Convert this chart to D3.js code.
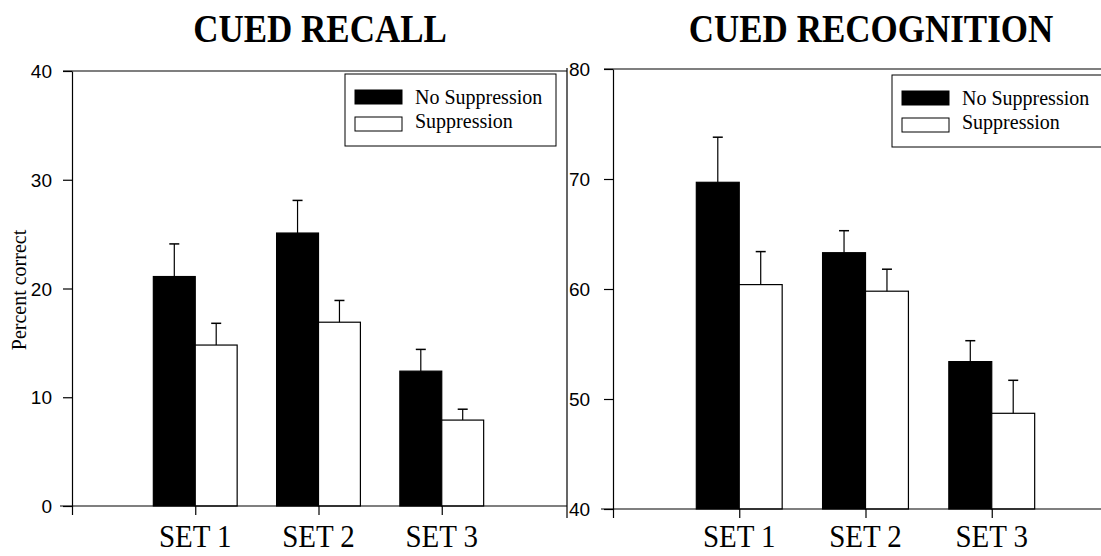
<!DOCTYPE html>
<head>
	<script src="https://d3js.org/d3.v7.min.js"></script>
	<style>
		body { margin: 0; background: #fff; }
		.title { font-family: "Liberation Serif", "Times New Roman", serif; font-weight: bold; font-size: 35px; fill: #000; }
		.tick-label { font-family: "Liberation Sans", Arial, sans-serif; font-size: 19px; fill: #000; }
		.cat { font-family: "Liberation Serif", serif; font-size: 29px; fill: #000; }
		.legend-text { font-family: "Liberation Serif", serif; font-size: 20px; fill: #000; }
		.ylab { font-family: "Liberation Serif", serif; font-size: 20px; fill: #000; }
		.domain, .tick line { stroke: #000; stroke-width: 1.2; }
	</style>
</head>
<body>
	<script>
		// data
		var sets = ["SET 1", "SET 2", "SET 3"];
		var series = ["No Suppression", "Suppression"];
		var recallNoSup = [21.1, 25.1, 12.4];
		var recallNoSupErr = [3.0, 3.0, 2.0];
		var recallSup = [14.8, 16.9, 7.9];
		var recallSupErr = [2.0, 2.0, 1.0];
		var recogNoSup = [69.7, 63.3, 53.4];
		var recogNoSupErr = [4.1, 2.0, 1.9];
		var recogSup = [60.4, 59.8, 48.7];
		var recogSupErr = [3.0, 2.0, 3.0];
		var recallTicks = [0, 10, 20, 30, 40];
		var recogTicks = [40, 50, 60, 70, 80];

		var width = 1101, height = 556;
		var svg = d3.select("body").append("svg")
			.attr("width", width)
			.attr("height", height);

		function panel(opt) {
			var x = d3.scaleLinear().domain([0, 4]).range([opt.left, opt.right]);
			var y = d3.scaleLinear().domain(opt.domain).range([opt.bottom, opt.top]);
			var bw = 0.34;
			var g = svg.append("g");

			// top frame line
			g.append("line")
				.attr("x1", opt.left - 9).attr("x2", opt.frameRight)
				.attr("y1", y(opt.domain[1])).attr("y2", y(opt.domain[1]))
				.attr("stroke", "#000").attr("stroke-width", 1.2);

			// bars
			var rows = sets.map(function(s, i) {
				return [
					{ c: i + 1, off: -bw, v: opt.a[i], e: opt.ae[i], fill: "#000" },
					{ c: i + 1, off: 0, v: opt.b[i], e: opt.be[i], fill: "#fff" }
				];
			}).flat();

			g.selectAll("rect.bar").data(rows).enter().append("rect")
				.attr("class", "bar")
				.attr("x", function(d) { return x(d.c + d.off); })
				.attr("width", function(d) { return x(bw) - x(0); })
				.attr("y", function(d) { return y(d.v); })
				.attr("height", function(d) { return y(opt.domain[0]) - y(d.v); })
				.attr("fill", function(d) { return d.fill; })
				.attr("stroke", "#000").attr("stroke-width", 1.2);

			// error bars
			var eb = g.selectAll("g.err").data(rows).enter().append("g");
			eb.append("line")
				.attr("x1", function(d) { return x(d.c + d.off + bw / 2); })
				.attr("x2", function(d) { return x(d.c + d.off + bw / 2); })
				.attr("y1", function(d) { return y(d.v); })
				.attr("y2", function(d) { return y(d.v + d.e); })
				.attr("stroke", "#000").attr("stroke-width", 1.2);
			eb.append("line")
				.attr("x1", function(d) { return x(d.c + d.off + bw / 2) - 5; })
				.attr("x2", function(d) { return x(d.c + d.off + bw / 2) + 5; })
				.attr("y1", function(d) { return y(d.v + d.e); })
				.attr("y2", function(d) { return y(d.v + d.e); })
				.attr("stroke", "#000").attr("stroke-width", 1.5);

			// axes
			var yAxis = d3.axisLeft(y).tickValues(opt.ticks).tickSize(9).tickSizeOuter(0).tickFormat("");
			g.append("g").attr("transform", "translate(" + [opt.left, 0] + ")").call(yAxis);
			var xAxis = d3.axisBottom(x).tickValues([0, 1, 2, 3]).tickSize(9).tickSizeOuter(0).tickFormat("");
			g.append("g").attr("transform", "translate(" + [0, opt.bottom] + ")").call(xAxis)
				.select(".domain").attr("d", "M" + (opt.left - 12) + ",0H" + opt.frameRight);

			// tick labels
			g.selectAll("text.tl").data(opt.ticks).enter().append("text")
				.attr("class", "tick-label")
				.attr("x", opt.labelX)
				.attr("y", function(d) { return y(d) + 7; })
				.attr("text-anchor", opt.labelAnchor)
				.text(function(d) { return d; });

			// category labels (scan is slightly stretched vertically)
			g.selectAll("text.cat").data(sets).enter().append("text")
				.attr("class", "cat")
				.attr("transform", function(d, i) { return "translate(" + [x(i + 1), 547] + ") scale(1,1.12)"; })
				.attr("text-anchor", "middle")
				.text(function(d) { return d; });

			// title
			g.append("text").attr("class", "title")
				.attr("transform", "translate(" + [opt.titleX, 42] + ") scale(1,1.15)")
				.attr("text-anchor", "middle")
				.text(opt.title);

			// legend
			var lg = g.append("g").attr("transform", "translate(" + [opt.legendX, opt.legendY] + ")");
			lg.append("rect").attr("x", 0).attr("y", 0).attr("width", 211).attr("height", 72)
				.attr("fill", "#fff").attr("stroke", "#000").attr("stroke-width", 1);
			lg.selectAll("rect.sw").data(series).enter().append("rect")
				.attr("x", 10).attr("y", function(d, i) { return 16 + i * 27; })
				.attr("width", 47).attr("height", 14)
				.attr("fill", function(d, i) { return i === 0 ? "#000" : "#fff"; })
				.attr("stroke", "#000").attr("stroke-width", 1);
			lg.selectAll("text.lt").data(series).enter().append("text")
				.attr("class", "legend-text")
				.attr("x", 70).attr("y", function(d, i) { return 30 + i * 24; })
				.text(function(d) { return d; });
		}

		panel({
			left: 72, right: 565, top: 71, bottom: 506, frameRight: 567,
			domain: [0, 40], ticks: recallTicks,
			a: recallNoSup, ae: recallNoSupErr, b: recallSup, be: recallSupErr,
			labelX: 52, labelAnchor: "end",
			title: "CUED RECALL", titleX: 320,
			legendX: 345, legendY: 74
		});
		panel({
			left: 613, right: 1118, top: 69, bottom: 509, frameRight: 1101,
			domain: [40, 80], ticks: recogTicks,
			a: recogNoSup, ae: recogNoSupErr, b: recogSup, be: recogSupErr,
			labelX: 569, labelAnchor: "start",
			title: "CUED RECOGNITION", titleX: 871,
			legendX: 892, legendY: 75
		});

		// vertical separator between panels
		svg.append("line")
			.attr("x1", 567).attr("x2", 567).attr("y1", 68).attr("y2", 518)
			.attr("stroke", "#000").attr("stroke-width", 1.2);

		// y title
		svg.append("text").attr("class", "ylab")
			.attr("text-anchor", "middle")
			.attr("transform", "translate(" + [26, 290] + ") rotate(-90)")
			.text("Percent correct");
	</script>
</body>
</html>
